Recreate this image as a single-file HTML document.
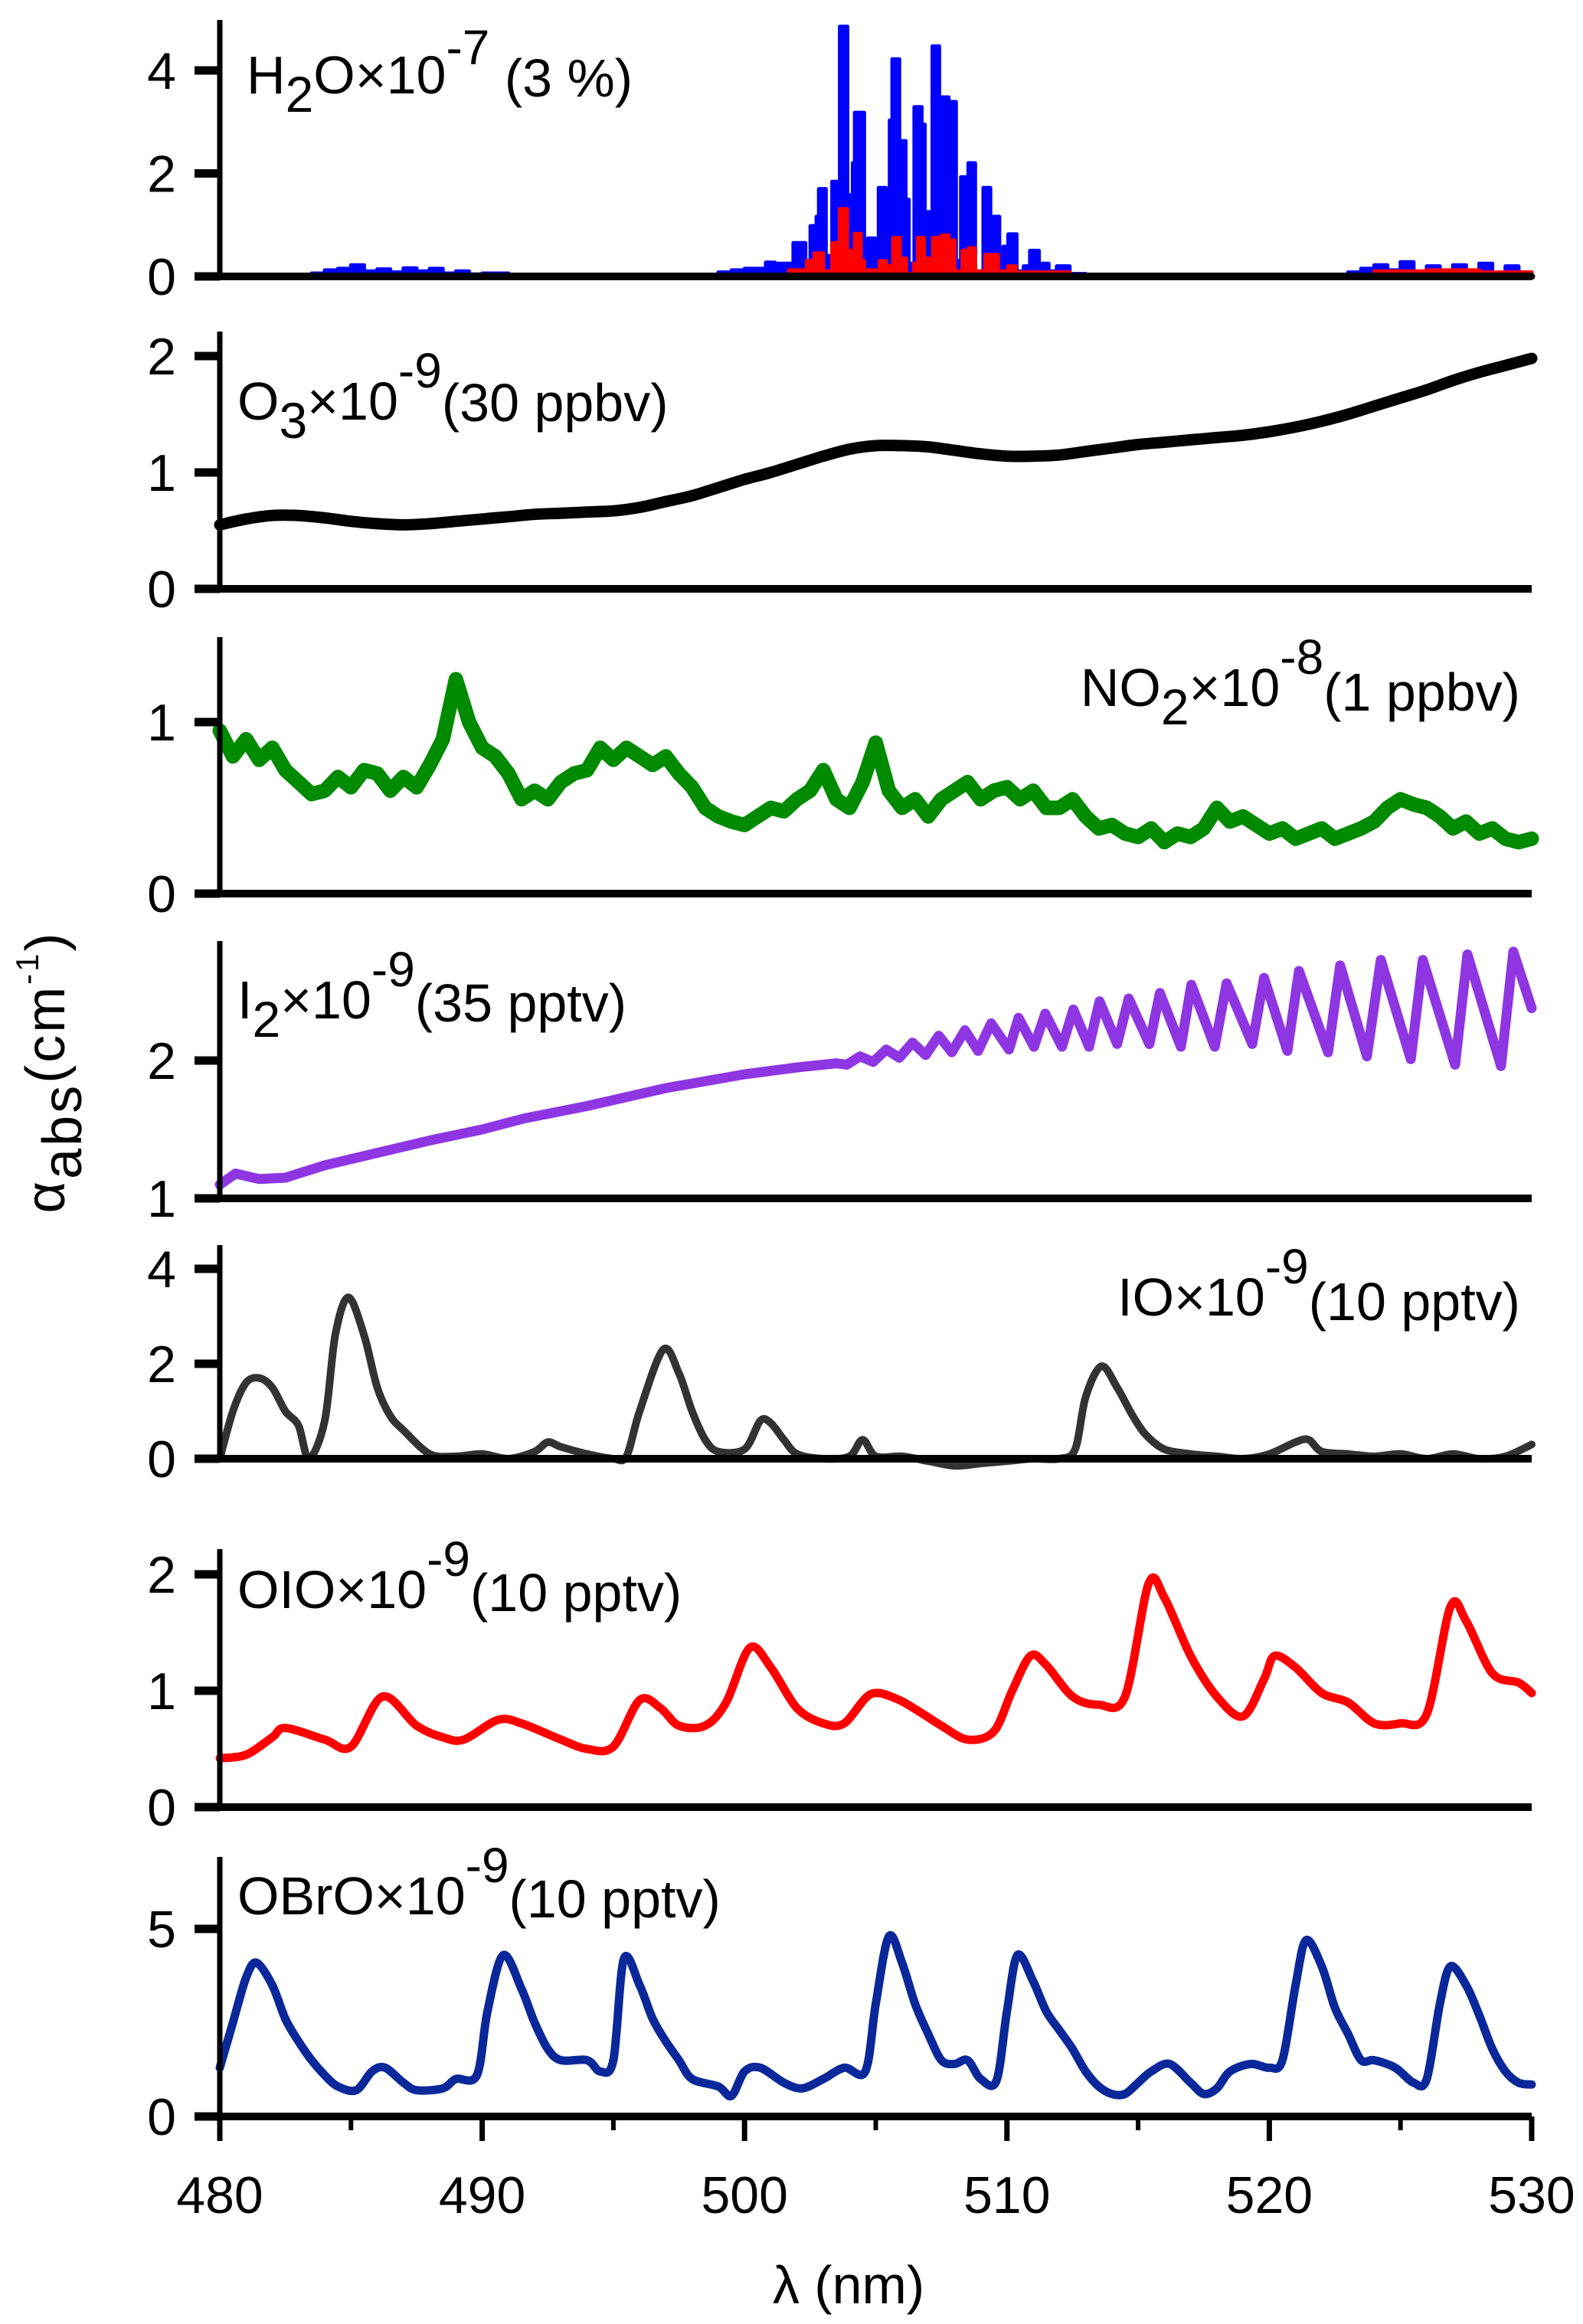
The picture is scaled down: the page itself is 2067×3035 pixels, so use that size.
<!DOCTYPE html>
<html><head><meta charset="utf-8"><style>
html,body{margin:0;padding:0;background:#fff;}
svg{display:block;font-family:"Liberation Sans",Arial,sans-serif;}
</style></head><body>
<svg id="chart" width="2067" height="3035" viewBox="0 0 2067 3035" xmlns="http://www.w3.org/2000/svg">
<g id="marks"></g>
<g id="axes"></g>
<g id="labels" font-size="70" fill="#000">
  <text x="322" y="122">H<tspan font-size="66" dy="24">2</tspan><tspan dy="-24">O×10</tspan><tspan font-size="64" dy="-38">-7</tspan><tspan dy="42"> (3 %)</tspan></text>
  <text x="310" y="548">O<tspan font-size="66" dy="24">3</tspan><tspan dy="-24">×10</tspan><tspan font-size="64" dy="-42">-9</tspan><tspan dy="44">(30 ppbv)</tspan></text>
  <text x="1985" y="922" text-anchor="end">NO<tspan font-size="66" dy="24">2</tspan><tspan dy="-24">×10</tspan><tspan font-size="64" dy="-42">-8</tspan><tspan dy="48">(1 ppbv)</tspan></text>
  <text x="310" y="1330">I<tspan font-size="66" dy="24">2</tspan><tspan dy="-24">×10</tspan><tspan font-size="64" dy="-42">-9</tspan><tspan dy="46">(35 pptv)</tspan></text>
  <text x="1985" y="1718" text-anchor="end">IO×10<tspan font-size="64" dy="-42">-9</tspan><tspan dy="48">(10 pptv)</tspan></text>
  <text x="310" y="2100">OIO×10<tspan font-size="64" dy="-42">-9</tspan><tspan dy="46">(10 pptv)</tspan></text>
  <text x="310" y="2500">OBrO×10<tspan font-size="64" dy="-42">-9</tspan><tspan dy="46">(10 pptv)</tspan></text>
  <text x="1108" y="3008" text-anchor="middle">λ (nm)</text>
  <text transform="translate(84,1400) rotate(-90)" text-anchor="middle" font-size="72" letter-spacing="3">α<tspan font-size="72" dy="22">abs</tspan><tspan dy="-22">(cm</tspan><tspan font-size="42" dy="-34">-1</tspan><tspan dy="34">)</tspan></text>
</g>
</svg>
<script>
const xTicks=[480,490,500,510,520,530];
const xMinor=[485,495,505,515,525];
// H2O (blue, step bins)
const h2oBlueLam=[480,483.5,484,484.5,485,485.5,486,486.5,487,487.5,488,488.5,489,489.5,490,491,495,498,499,499.5,500,500.81,501.15,501.86,502.32,502.51,502.74,502.83,503.1,503.34,503.63,503.92,504.12,504.2,504.56,504.7,504.98,505.11,505.39,505.53,505.63,505.9,506.14,506.26,506.47,506.75,506.87,507.09,507.16,507.42,507.5,507.78,508.06,508.25,508.53,508.79,509.1,509.37,509.47,509.71,509.86,510.05,510.37,510.64,510.88,511.22,511.59,511.9,512.39,513,523,523.5,524,524.5,525,525.5,526,526.5,527,527.5,528,528.5,529,529.5,530];
const h2oBlueVal=[0,0.06,0.12,0.15,0.22,0.1,0.14,0.08,0.16,0.1,0.15,0.06,0.1,0.04,0.06,0.02,0,0.03,0.08,0.12,0.15,0.27,0.25,0.65,0.3,0.98,1.16,1.7,0.4,1.84,4.85,1.58,2.2,3.18,0.58,0.74,0.3,1.72,1.22,3.03,4.22,2.63,1.49,0.25,3.29,2.95,1.25,1.08,4.47,0.55,3.48,3.39,0.3,1.93,2.2,0.1,1.72,1.0,1.16,0.1,0.58,0.82,0.1,0.2,0.5,0.25,0.1,0.2,0.05,0,0.08,0.15,0.22,0.12,0.28,0.08,0.2,0.04,0.22,0.08,0.25,0.04,0.2,0.08,0.05];
const h2oRedLam=[480,499.35,501.69,502.37,502.66,503.0,503.34,503.63,503.91,504.07,504.2,504.43,504.56,505.14,505.39,505.66,505.92,506.16,506.45,506.6,506.84,506.94,507.18,507.42,507.52,507.78,508.0,508.3,508.54,508.79,509.17,509.66,510.05,510.34,511.9,512.39,524,526,528,530];
const h2oRedVal=[0,0.03,0.12,0.3,0.45,0.1,0.65,1.31,0.5,0.5,0.83,0.3,0.12,0.3,0.2,0.75,0.35,0.05,0.25,0.75,0.25,0.35,0.75,0.1,0.8,0.7,0.1,0.5,0.55,0.1,0.42,0.1,0.2,0.08,0.08,0.03,0.1,0.12,0.08,0.05];
const h2oBlackLam=[480,530];
const h2oBlackVal=[0,0];
// O3
const o3Lam=[480,481,482,483,484,485,486,487,488,489,490,491,492,493,494,495,496,497,498,499,500,501,502,503,504,505,506,507,508,509,510,511,512,513,514,515,516,517,518,519,520,521,522,523,524,525,526,527,528,529,530];
const o3Val=[0.55,0.6,0.63,0.63,0.61,0.58,0.56,0.55,0.56,0.58,0.6,0.62,0.64,0.65,0.66,0.67,0.7,0.75,0.8,0.87,0.94,1.0,1.07,1.14,1.2,1.23,1.23,1.22,1.19,1.16,1.14,1.14,1.15,1.18,1.21,1.24,1.26,1.28,1.3,1.32,1.35,1.39,1.44,1.5,1.57,1.64,1.71,1.79,1.86,1.92,1.98];
// NO2
const no2Lam=[480,480.5,481,481.5,482,482.5,483,483.5,484,484.5,485,485.5,486,486.5,487,487.5,488,488.5,489,489.5,490,490.5,491,491.5,492,492.5,493,493.5,494,494.5,495,495.5,496,496.5,497,497.5,498,498.5,499,499.5,500,500.5,501,501.5,502,502.5,503,503.5,504,504.5,505,505.5,506,506.5,507,507.5,508,508.5,509,509.5,510,510.5,511,511.5,512,512.5,513,513.5,514,514.5,515,515.5,516,516.5,517,517.5,518,518.5,519,519.5,520,520.5,521,521.5,522,522.5,523,523.5,524,524.5,525,525.5,526,526.5,527,527.5,528,528.5,529,529.5,530];
const no2Val=[0.95,0.8,0.9,0.78,0.85,0.72,0.65,0.58,0.6,0.68,0.62,0.72,0.7,0.6,0.68,0.62,0.75,0.9,1.25,1.0,0.85,0.8,0.7,0.55,0.6,0.55,0.65,0.7,0.72,0.85,0.78,0.85,0.8,0.75,0.8,0.7,0.62,0.5,0.45,0.42,0.4,0.45,0.5,0.48,0.55,0.6,0.72,0.55,0.5,0.65,0.88,0.6,0.5,0.55,0.45,0.55,0.6,0.65,0.55,0.6,0.62,0.55,0.6,0.5,0.5,0.55,0.45,0.38,0.4,0.35,0.33,0.38,0.3,0.35,0.33,0.38,0.5,0.42,0.45,0.4,0.35,0.38,0.32,0.35,0.38,0.32,0.35,0.38,0.42,0.5,0.55,0.52,0.5,0.45,0.38,0.42,0.35,0.38,0.32,0.3,0.32];
// I2
const i2Lam=[480,480.6,481.5,482.5,484,486,488,490,491.6,494,497,500,502,503.5,503.9,504.4,504.9,505.4,505.9,506.4,506.9,507.4,507.9,508.4,508.9,509.4,510.08,510.44,511.03,511.46,512.1,512.53,513.13,513.53,514.2,514.64,515.43,515.83,516.63,517.03,517.92,518.37,519.35,519.8,520.69,521.13,522.24,522.7,523.72,524.25,525.39,525.85,527.08,527.55,528.83,529.3,530];
const i2Val=[1.1,1.18,1.14,1.15,1.24,1.33,1.42,1.5,1.58,1.67,1.8,1.9,1.95,1.98,1.97,2.03,1.99,2.08,2.02,2.13,2.04,2.18,2.06,2.22,2.07,2.27,2.08,2.31,2.10,2.34,2.10,2.37,2.10,2.43,2.12,2.45,2.12,2.49,2.10,2.55,2.10,2.56,2.12,2.60,2.07,2.65,2.06,2.69,2.03,2.73,2.01,2.73,1.97,2.77,1.96,2.79,2.38];
// IO
const ioLam=[480,480.5,481,481.5,482,482.5,483,483.4,484,484.4,484.9,485.5,486,486.5,487,488,489,490,491,492,492.5,493,494,495,495.5,496,496.9,497.5,498,498.5,499,500,500.6,501,501.5,502,503,504,504.5,505,506,507,508,509,510,511,512,512.6,513,513.6,514.2,514.8,515.3,516,517,518,519,520,521,521.5,522,523,524,525,526,527,528,529,530];
const ioVal=[0,1.0,1.6,1.7,1.5,1.0,0.7,0,0.8,2.6,3.4,2.6,1.5,0.9,0.6,0.1,0.05,0.1,0.0,0.15,0.35,0.25,0.1,0.0,0.05,1.0,2.3,1.8,1.0,0.4,0.15,0.2,0.8,0.75,0.4,0.1,0,0.05,0.4,0.05,0.05,-0.05,-0.15,-0.1,-0.05,0,0.0,0.2,1.3,1.95,1.5,0.9,0.5,0.2,0.1,0.05,0.0,0.1,0.35,0.4,0.15,0.1,0.05,0.1,0.0,0.1,0.0,0.05,0.3];
// OIO
const oioLam=[480,481,482,482.5,484,485,486.2,487.5,488.5,489.3,490.6,491.5,493,494,495,496,496.8,497.5,498.5,499.3,500.2,501,502,503,503.8,504.8,505.8,506.8,507.5,508.5,509.5,510.2,510.9,511.5,512.5,513.5,514.5,515.4,516,517,518,519,519.8,520.2,521,522,523,524,525,526,526.9,527.5,528.5,529.5,530];
const oioVal=[0.42,0.45,0.6,0.68,0.58,0.52,0.95,0.7,0.6,0.58,0.75,0.72,0.58,0.5,0.52,0.92,0.85,0.7,0.7,0.9,1.37,1.2,0.85,0.72,0.72,0.97,0.93,0.8,0.7,0.58,0.65,1.0,1.3,1.22,0.95,0.88,0.95,1.92,1.8,1.3,0.95,0.78,1.1,1.3,1.2,0.98,0.9,0.72,0.72,0.8,1.72,1.6,1.15,1.07,0.98];
// OBrO
const obroLam=[480,480.5,481,481.4,482,482.5,483,483.5,484,484.5,485.2,485.8,486.3,487,487.5,488.5,489,489.8,490.2,490.8,491.5,492,492.5,493,494,494.5,495,495.4,496,496.5,497,497.5,498,499,499.5,500,500.6,501.5,502.2,503,503.8,504.6,505,505.5,506,506.5,507,507.5,508,508.5,509,509.6,510,510.4,511,511.5,512,512.5,513,513.5,514,514.5,515,515.5,516.2,517,517.5,518,518.5,519.3,520,520.5,521,521.4,522,522.5,523,523.5,524,524.8,525.5,526,526.5,526.9,527.5,528,528.5,529,529.5,530];
const obroVal=[1.3,2.5,3.7,4.1,3.5,2.6,2.0,1.5,1.1,0.8,0.7,1.2,1.3,0.9,0.7,0.75,1.0,1.1,2.8,4.3,3.4,2.5,1.8,1.5,1.5,1.2,1.5,4.2,3.5,2.6,2.0,1.5,1.0,0.8,0.55,1.2,1.3,0.9,0.75,1.0,1.3,1.2,3.0,4.8,4.1,3.0,2.2,1.5,1.4,1.5,1.0,0.95,2.8,4.3,3.6,2.8,2.3,1.8,1.2,0.8,0.6,0.6,0.9,1.2,1.4,0.9,0.6,0.75,1.2,1.4,1.3,1.5,3.5,4.7,4.0,2.9,2.2,1.5,1.5,1.3,0.9,1.0,3.0,4.0,3.5,2.7,1.8,1.2,0.9,0.85];

const NS='http://www.w3.org/2000/svg';
const X0=287,X1=2000;
function xs(l){return X0+(l-480)/50*(X1-X0);}
const panels=[
 {name:'h2o',top:26,ref:0,refY:361,ppu:67.25,ticks:[0,2,4],base:0},
 {name:'o3',top:433,ref:0,refY:769,ppu:152,ticks:[0,1,2],base:0},
 {name:'no2',top:832,ref:0,refY:1167,ppu:224,ticks:[0,1],base:0},
 {name:'i2',top:1229,ref:1,refY:1565,ppu:180,ticks:[1,2],base:1},
 {name:'io',top:1626,ref:0,refY:1905,ppu:62,ticks:[0,2,4],base:0},
 {name:'oio',top:2023,ref:0,refY:2360,ppu:152,ticks:[0,1,2],base:0},
 {name:'obro',top:2425,ref:0,refY:2764,ppu:49,ticks:[0,5],base:0}
];
function ys(p,v){return p.refY-(v-p.ref)*p.ppu;}
const marks=document.getElementById('marks');
const axes=document.getElementById('axes');
function mk(tag,attrs,parent){const e=document.createElementNS(NS,tag);for(const k in attrs)e.setAttribute(k,attrs[k]);parent.appendChild(e);return e;}

function line(p,lam,val,color,w,name,smooth){
  const pts=lam.map((l,i)=>[xs(l),ys(p,val[i])]);
  let d='M'+pts[0][0].toFixed(1)+','+pts[0][1].toFixed(1);
  for(let i=1;i<pts.length;i++){
    if(smooth){
      const p0=pts[Math.max(0,i-2)],p1=pts[i-1],p2=pts[i],p3=pts[Math.min(pts.length-1,i+1)];
      const t=0.16;
      const c1=[p1[0]+(p2[0]-p0[0])*t,p1[1]+(p2[1]-p0[1])*t];
      const c2=[p2[0]-(p3[0]-p1[0])*t,p2[1]-(p3[1]-p1[1])*t];
      d+=' C'+c1[0].toFixed(1)+','+c1[1].toFixed(1)+' '+c2[0].toFixed(1)+','+c2[1].toFixed(1)+' '+p2[0].toFixed(1)+','+p2[1].toFixed(1);
    } else d+=' L'+pts[i][0].toFixed(1)+','+pts[i][1].toFixed(1);
  }
  const el=mk('path',{d:d,fill:'none',stroke:color,'stroke-width':w,'stroke-linejoin':'round','stroke-linecap':'round'},marks);
  
  
}
function stepArea(p,lam,val,color,name){
  let d='M'+xs(lam[0]).toFixed(1)+','+ys(p,0).toFixed(1);
  for(let i=0;i<lam.length;i++){
    const xa=xs(lam[i]),xb=i+1<lam.length?xs(lam[i+1]):xs(530);
    const y=ys(p,val[i]);
    d+=' L'+xa.toFixed(1)+','+y.toFixed(1)+' L'+xb.toFixed(1)+','+y.toFixed(1);
  }
  d+=' L'+xs(530).toFixed(1)+','+ys(p,0).toFixed(1)+' Z';
  const el=mk('path',{d:d,fill:color,stroke:color,'stroke-width':5,'stroke-linejoin':'round'},marks);
  
  
}
const P={};panels.forEach(p=>P[p.name]=p);
stepArea(P.h2o,h2oBlueLam,h2oBlueVal,'#0000ff','h2o-blue-series');
stepArea(P.h2o,h2oRedLam,h2oRedVal,'#ff0000','h2o-red-series');
line(P.h2o,h2oBlackLam,h2oBlackVal,'#000',9,'h2o-black-series',false);
line(P.o3,o3Lam,o3Val,'#000',15,'o3-series',true);
line(P.no2,no2Lam,no2Val,'#008a00',19,'no2-series',false);
line(P.i2,i2Lam,i2Val,'#8e36e2',13,'i2-series',false);
line(P.io,ioLam,ioVal,'#333333',10,'io-series',true);
line(P.oio,oioLam,oioVal,'#ff0000',11,'oio-series',true);
line(P.obro,obroLam,obroVal,'#0a2899',11,'obro-series',true);

panels.forEach(p=>{
  const by=ys(p,p.base);
  const ya=mk('line',{x1:X0,x2:X0,y1:p.top,y2:by+4,stroke:'#000','stroke-width':7},axes);
  
  
  const xa=mk('line',{x1:X0,x2:X1,y1:by,y2:by,stroke:'#000','stroke-width':10},axes);
  
  
  p.ticks.forEach(t=>{
    const y=ys(p,t);
    const tk=mk('line',{x1:254,x2:X0,y1:y,y2:y,stroke:'#000','stroke-width':11},axes);
    
    
    const tl=mk('text',{x:230,y:y+24,'text-anchor':'end','font-size':68},axes);
    tl.textContent=t;
    
    
  });
});
const bottom=ys(P.obro,0);
xTicks.forEach(t=>{
  const tk=mk('line',{x1:xs(t),x2:xs(t),y1:bottom,y2:bottom+32,stroke:'#000','stroke-width':7},axes);
  
  
  const tl=mk('text',{x:xs(t),y:bottom+126,'text-anchor':'middle','font-size':68},axes);
  tl.textContent=t;
  
  
});
xMinor.forEach(t=>{
  const tk=mk('line',{x1:xs(t),x2:xs(t),y1:bottom,y2:bottom+18,stroke:'#000','stroke-width':6},axes);
  
  
});
</script>
</body></html>
